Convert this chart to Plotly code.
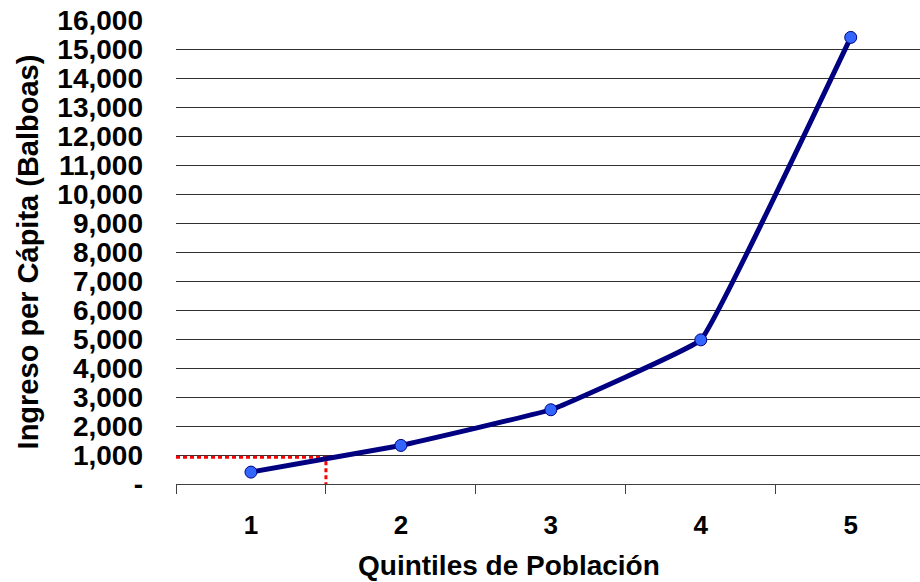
import plotly.graph_objects as go

# Quintiles de población e ingreso per cápita (balboas)
quintiles = [1, 2, 3, 4, 5]
quintile_labels = ["1", "2", "3", "4", "5"]
ingreso = [410, 1330, 2560, 4970, 15400]

# Línea de referencia (umbral de ingreso) marcada con punteado rojo
umbral_x = [0.5, 1.5, 1.5]
umbral_y = [925, 925, 0]

y_ticks = list(range(0, 16001, 1000))
y_labels = ["-"] + [f"{v:,}" for v in y_ticks[1:]]

font_family = "Arial, Liberation Sans, sans-serif"

fig = go.Figure()

fig.add_trace(go.Scatter(
    x=umbral_x, y=umbral_y, mode="lines",
    line=dict(color="#ff0000", width=3, dash="4px,3px"),
    hoverinfo="skip", showlegend=False,
))

fig.add_trace(go.Scatter(
    x=quintiles, y=ingreso, mode="lines+markers",
    line=dict(color="#000080", width=5, shape="spline", smoothing=0.2),
    marker=dict(size=12, color="#3366ff", line=dict(color="#000080", width=1)),
    showlegend=False,
))

fig.update_layout(
    width=920, height=582,
    margin=dict(l=176, r=0, t=20, b=98),
    plot_bgcolor="white", paper_bgcolor="white",
    font=dict(family=font_family, size=28, color="black", weight="bold"),
    xaxis=dict(
        range=[0.5, 5.462],
        tickvals=quintiles, ticktext=quintile_labels,
        ticks="", showgrid=False,
        showline=True, linecolor="#404040", linewidth=1,
        zeroline=False,
        minor=dict(ticks="outside", tick0=0.5, dtick=1, ticklen=9,
                   tickcolor="#404040", tickwidth=1, showgrid=False),
        ticklabelstandoff=18,
        tickfont=dict(size=26, weight="bold"),
    ),
    yaxis=dict(
        range=[0, 16000],
        tickvals=y_ticks, ticktext=y_labels,
        ticks="", showgrid=True, gridcolor="#303030", gridwidth=1,
        showline=False, zeroline=False,
        ticklabelstandoff=32,
        tickfont=dict(size=28, weight="bold"),
        title=dict(text="Ingreso per Cápita (Balboas)", standoff=10,
                   font=dict(size=29, weight="bold")),
    ),
    annotations=[dict(
        text="Quintiles de Población", xref="paper", yref="paper",
        x=0.4476, y=-0.1746, xanchor="center", yanchor="middle",
        showarrow=False, font=dict(size=28, weight="bold"),
    )],
)

fig.write_html("out.html")
